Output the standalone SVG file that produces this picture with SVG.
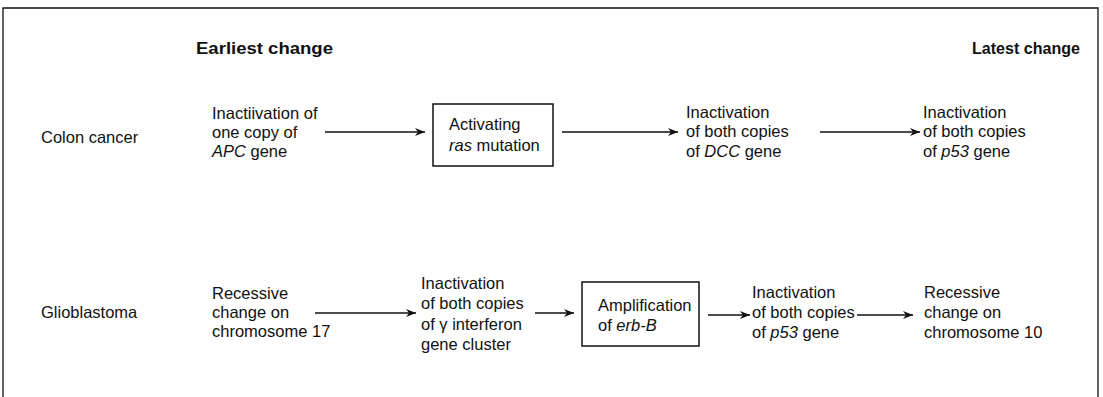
<svg xmlns="http://www.w3.org/2000/svg" width="1103" height="397" viewBox="0 0 1103 397">
<defs>
<marker id="ah" viewBox="0 0 10 8" refX="10" refY="4" markerWidth="10" markerHeight="8" markerUnits="userSpaceOnUse" orient="auto">
<path d="M0,0 L10,4 L0,8 L3,4 Z" fill="#111"/>
</marker>
<style>
text{font-family:"Liberation Sans",Arial,sans-serif;font-size:16.5px;fill:#111}
.h{font-weight:bold;font-size:17px}
.box{fill:#fff;stroke:#111;stroke-width:1.5}
.c{stroke:#111;stroke-width:1.3;fill:none;marker-end:url(#ah)}
.frame{stroke:#111;stroke-width:1.3;fill:none}
</style>
</defs>
<rect width="1103" height="397" fill="#fff"/>
<path class="frame" d="M3,397 V8 H1098 V397"/>
<g id="headers">
<text class="h" x="196" y="54" textLength="137" lengthAdjust="spacingAndGlyphs">Earliest change</text>
<text class="h" x="972" y="54" textLength="108" lengthAdjust="spacingAndGlyphs">Latest change</text>
</g>
<g id="colon-label"><text x="41" y="143">Colon cancer</text></g>
<g id="apc"><text x="212" y="119">Inactiivation of</text><text x="212" y="138">one copy of</text><text x="212" y="157"><tspan font-style="italic">APC</tspan> gene</text></g>
<g id="ras"><rect class="box" x="433" y="104" width="120" height="62"/><text x="449" y="130">Activating</text><text x="449" y="151"><tspan font-style="italic">ras</tspan> mutation</text></g>
<g id="dcc"><text x="686" y="118">Inactivation</text><text x="686" y="137">of both copies</text><text x="686" y="157">of <tspan font-style="italic">DCC</tspan> gene</text></g>
<g id="p53a"><text x="923" y="118">Inactivation</text><text x="923" y="137">of both copies</text><text x="923" y="157">of <tspan font-style="italic">p53</tspan> gene</text></g>
<g id="glio-label"><text x="41" y="318">Glioblastoma</text></g>
<g id="chr17"><text x="212" y="299">Recessive</text><text x="212" y="318">change on</text><text x="212" y="337">chromosome 17</text></g>
<g id="ifn"><text x="421" y="289">Inactivation</text><text x="421" y="309">of both copies</text><text x="421" y="330">of γ interferon</text><text x="421" y="350">gene cluster</text></g>
<g id="erb"><rect class="box" x="582" y="282" width="117" height="64"/><text x="598" y="311">Amplification</text><text x="598" y="331">of <tspan font-style="italic">erb-B</tspan></text></g>
<g id="p53b"><text x="752" y="298">Inactivation</text><text x="752" y="318">of both copies</text><text x="752" y="338">of <tspan font-style="italic">p53</tspan> gene</text></g>
<g id="chr10"><text x="924" y="298">Recessive</text><text x="924" y="318">change on</text><text x="924" y="338">chromosome 10</text></g>
<g id="connectors">
<line class="c" x1="325" y1="132" x2="425" y2="132"/>
<line class="c" x1="562" y1="132" x2="678" y2="132"/>
<line class="c" x1="820" y1="132" x2="920" y2="132"/>
<line class="c" x1="315" y1="313" x2="416" y2="313"/>
<line class="c" x1="535" y1="313" x2="574" y2="313"/>
<line class="c" x1="708" y1="315" x2="750" y2="315"/>
<line class="c" x1="857" y1="315" x2="913" y2="315"/>
</g>
</svg>
